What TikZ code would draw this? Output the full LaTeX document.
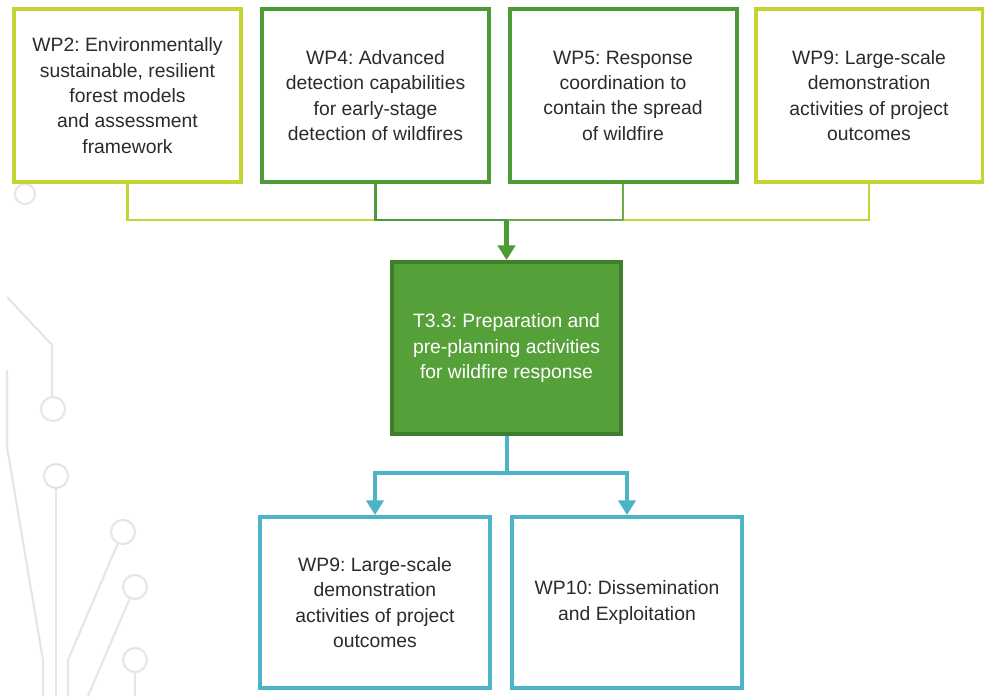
\documentclass[tikz,border=0pt]{standalone}
\usepackage{fontspec}
\setmainfont{Liberation Sans}
\usetikzlibrary{arrows.meta,calc}
\definecolor{lime}{HTML}{C5D433}
\definecolor{dkgreen}{HTML}{4C9B34}
\definecolor{midgreen}{HTML}{6AAE45}
\definecolor{tfill}{HTML}{55A038}
\definecolor{tborder}{HTML}{3E7F2B}
\definecolor{tealc}{HTML}{4CB4C6}
\definecolor{txt}{HTML}{2B2B2B}
\definecolor{deco}{HTML}{E6E6E6}
\tikzset{
  wpbox/.style={draw, line width=3pt, fill=white, align=center, text=txt,
    minimum width=170pt, minimum height=130pt, inner sep=1pt,
    font=\fontsize{14.5pt}{19pt}\selectfont},
  topbox/.style={wpbox, minimum width=170.25pt, minimum height=129.75pt},
  midbox/.style={wpbox, draw=tborder, fill=tfill, text=white,
    minimum width=171.75pt, minimum height=129pt},
  botbox/.style={wpbox, draw=tealc, minimum width=172.5pt, minimum height=128.25pt},
  conn/.style={line width=2pt},
  decoline/.style={draw=deco, line width=1.6pt},
  bigtip/.style={-{Triangle[width=13pt,length=11pt]}},
}
\begin{document}
\frenchspacing
\begin{tikzpicture}[x=0.75pt,y=-0.75pt]
\useasboundingbox (0,0) rectangle (984,696);
\fill[white] (0,0) rectangle (984,696);
% background decoration
\draw[decoline] (7,297) -- (52,345) -- (52,397);
\draw[decoline] (53,409) circle[radius=12];
\draw[decoline] (56,476) circle[radius=12];
\draw[decoline] (56,488) -- (56,696);
\draw[decoline] (123,532) circle[radius=12];
\draw[decoline] (118,543) -- (68,660) -- (68,696);
\draw[decoline] (135,587) circle[radius=12];
\draw[decoline] (130,598) -- (88,696);
\draw[decoline] (135,660) circle[radius=12];
\draw[decoline] (135,672) -- (135,696);
\draw[decoline] (7,370) -- (7,447) -- (43,660) -- (43,696);
\draw[decoline] (25,194) circle[radius=10];
% top boxes
\node[topbox, draw=lime] (wp2) at (127.5,95.5) {WP2: Environmentally\\sustainable, resilient\\forest models\\and assessment\\framework};
\node[topbox, draw=dkgreen] (wp4) at (375.5,95.5) {WP4: Advanced\\detection capabilities\\for early-stage\\detection of wildfires};
\node[topbox, draw=dkgreen] (wp5) at (623,95.5) {WP5: Response\\coordination to\\contain the spread\\of wildfire};
\node[topbox, draw=lime] (wp9a) at (869,95.5) {WP9: Large-scale\\demonstration\\activities of project\\outcomes};
% middle box
\node[midbox] (t33) at (506.5,348) {T3.3: Preparation and\\pre-planning activities\\for wildfire response};
% bottom boxes
\node[botbox] (wp9b) at (375,602.5) {WP9: Large-scale\\demonstration\\activities of project\\outcomes};
\node[botbox] (wp10) at (627,602.5) {WP10: Dissemination\\and Exploitation};
% top connectors
\coordinate (j) at ($(t33.north)+(0,-40)$);
\draw[conn, lime] (wp2.south) |- (wp4.south |- j);
\draw[conn, lime] (wp9a.south) |- (wp5.south |- j);
\draw[conn, dkgreen] (wp4.south) |- (j);
\draw[conn, midgreen] (wp5.south) |- (j);
\draw[dkgreen, line width=3.2pt, bigtip] (j) -- (t33.north);
% bottom connectors
\coordinate (k) at ($(t33.south)+(0,37)$);
\draw[tealc, line width=3pt] (t33.south) -- (k);
\draw[tealc, line width=2.4pt, bigtip] (k) -| (wp9b.north);
\draw[tealc, line width=2.4pt, bigtip] (k) -| (wp10.north);
\end{tikzpicture}
\end{document}
